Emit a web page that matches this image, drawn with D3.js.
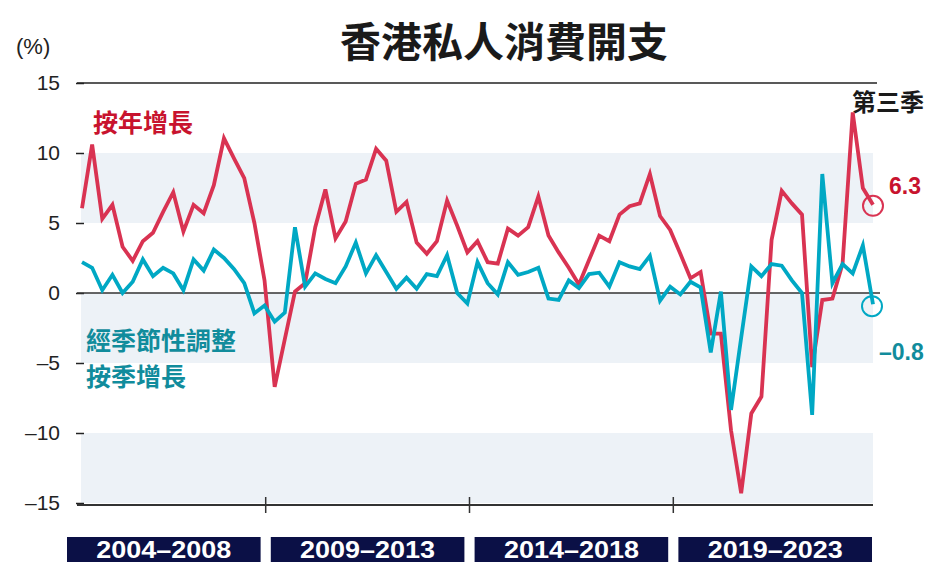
<!DOCTYPE html>
<html lang="zh-Hant">
<head>
<meta charset="utf-8">
<title>香港私人消費開支</title>
<script src="https://cdn.jsdelivr.net/npm/d3@7"></script>
<style>
  body { margin: 0; background: #fff; }
  svg { display: block; }
  .num { font-family: "Liberation Sans", Arial, sans-serif; }
  .cjk { font-family: "Noto Sans CJK TC", "Noto Sans CJK SC", sans-serif; font-weight: bold; }
</style>
</head>
<body>
<svg width="928" height="562"></svg>
<script>
// quarters 2004 Q1 .. 2023 Q3
var years = [2004, 2005, 2006, 2007, 2008, 2009, 2010, 2011, 2012, 2013,
             2014, 2015, 2016, 2017, 2018, 2019, 2020, 2021, 2022, 2023];
var quarterNames = ["Q1", "Q2", "Q3", "Q4"];
var quarters = [];
years.forEach(function (yr) {
  quarterNames.forEach(function (q) { quarters.push(yr + " " + q); });
});
quarters = quarters.slice(0, 79);

// 按年增長 (%)
var yoyGrowth = [
  6.05, 10.6, 5.3, 6.3,   3.3, 2.3, 3.7, 4.3,   5.8, 7.2, 4.4, 6.3,   5.7, 7.7, 11.05, 9.6,
  8.2, 5.0, 0.9, -6.7,    -3.3, 0.1, 0.7, 4.7,  7.4, 3.9, 5.1, 7.8,   8.1, 10.3, 9.45, 5.8,
  6.5, 3.6, 2.8, 3.7,     6.6, 4.8, 2.9, 3.7,   2.2, 2.1, 4.6, 4.1,   4.7, 6.9, 4.1, 2.9,
  1.8, 0.6, 2.35, 4.1,    3.7, 5.6, 6.2, 6.4,   8.5, 5.5, 4.5, 2.8,   1.05, 1.5, -2.9, -2.9,
  -9.8, -14.3, -8.6, -7.4, 3.8, 7.3, 6.4, 5.6,  -5.3, -0.5, -0.4, 2.1, 12.9, 7.5, 6.3
];
// 經季節性調整按季增長 (%)
var qoqGrowth = [
  2.2, 1.8, 0.2, 1.3,     0.0, 0.8, 2.4, 1.2,   1.8, 1.4, 0.2, 2.4,   1.6, 3.1, 2.5, 1.7,
  0.7, -1.45, -0.9, -2.05, -1.4, 4.7, 0.45, 1.4, 1.0, 0.7, 1.9, 3.6,  1.4, 2.7, 1.5, 0.3,
  1.1, 0.3, 1.35, 1.2,    2.7, 0.0, -0.75, 2.2, 0.7, -0.1, 2.2, 1.3,  1.5, 1.8, -0.4, -0.5,
  0.9, 0.35, 1.35, 1.45,  0.45, 2.2, 1.9, 1.7,  2.65, -0.55, 0.45, -0.1, 0.8, 0.4, -4.25, 0.1,
  -8.35, -3.2, 1.9, 1.2,  2.07, 1.95, 0.9, 0.0, -8.7, 8.5, 0.7, 2.07, 1.4, 3.4, -0.8
];

var yTicks = [15, 10, 5, 0, -5, -10, -15];
var shadeBands = [[10, 5], [0, -5], [-10, -15]];
var periods = ["2004–2008", "2009–2013", "2014–2018", "2019–2023"];

var redLine = "#d93352", redText = "#c8132e";
var cyanLine = "#00a8c4", cyanText = "#118c9c";

var svg = d3.select("svg");

var x = d3.scaleLinear().domain([0, quarters.length - 1]).range([82, 873]);
var y = d3.scaleLinear().domain([-15, 15]).range([503, 83]);
var periodScale = d3.scaleBand().domain(periods).range([67, 872]).paddingInner(0.05);

// bandes grises
svg.selectAll("rect.band")
  .data(shadeBands)
  .enter()
  .append("rect")
    .classed("band", true)
    .attr("x", 81)
    .attr("width", 873 - 81)
    .attr("y", function (d) { return y(d[0]); })
    .attr("height", function (d) { return y(d[1]) - y(d[0]); })
    .attr("fill", "#edf2f7");

// y axis
var axeY = d3.axisLeft(y)
  .tickValues(yTicks)
  .tickSize(8)
  .tickPadding(16)
  .tickFormat(function (d) { return d < 0 ? "–" + Math.abs(d) : d; });

svg.append("g")
    .attr("transform", "translate(84,0)")
    .call(axeY)
    .attr("font-size", 21)
    .attr("font-family", "Liberation Sans, Arial, sans-serif")
    .call(function (g) { g.select(".domain").remove(); })
    .call(function (g) { g.selectAll("line").attr("stroke", "#222").attr("stroke-width", 1.5); })
    .call(function (g) { g.selectAll("text").attr("fill", "#222"); });

// lignes 15 et 0
svg.append("line")
  .attr("x1", 77).attr("x2", 877)
  .attr("y1", y(15)).attr("y2", y(15))
  .attr("stroke", "#222").attr("stroke-width", 1.5);

svg.append("line")
  .attr("x1", 77).attr("x2", 880)
  .attr("y1", y(0)).attr("y2", y(0))
  .attr("stroke", "#333").attr("stroke-width", 1.5);

// axe du bas
svg.append("line")
  .attr("x1", 77).attr("x2", 873)
  .attr("y1", y(-15) + 2).attr("y2", y(-15) + 2)
  .attr("stroke", "#333").attr("stroke-width", 2);

var gap = periodScale.step() * periodScale.paddingInner();
svg.selectAll("line.xtick")
  .data(periods.slice(1))
  .enter()
  .append("line")
    .classed("xtick", true)
    .attr("x1", function (d) { return periodScale(d) - gap / 2; })
    .attr("x2", function (d) { return periodScale(d) - gap / 2; })
    .attr("y1", y(-15) - 6).attr("y2", y(-15) + 10)
    .attr("stroke", "#333").attr("stroke-width", 1.5);

// period labels
var periodG = svg.selectAll("g.period")
  .data(periods)
  .enter()
  .append("g")
    .classed("period", true);

periodG.append("rect")
  .attr("x", function (d) { return periodScale(d); })
  .attr("width", periodScale.bandwidth())
  .attr("y", 537)
  .attr("height", 25)
  .attr("fill", "#0b1046");

periodG.append("text")
  .attr("class", "num")
  .attr("x", function (d) { return periodScale(d) + periodScale.bandwidth() / 2; })
  .attr("y", 550)
  .attr("text-anchor", "middle")
  .attr("dominant-baseline", "central")
  .attr("font-size", 23)
  .attr("font-weight", "bold")
  .attr("fill", "#fff")
  .attr("textLength", 135)
  .attr("lengthAdjust", "spacingAndGlyphs")
  .text(function (d) { return d; });

// courbes
var ligne = d3.line()
  .x(function (d, i) { return x(i); })
  .y(function (d) { return y(d); });

svg.append("path")
  .datum(yoyGrowth)
  .attr("d", ligne)
  .attr("fill", "none")
  .attr("stroke", redLine)
  .attr("stroke-width", 3.8);

svg.append("path")
  .datum(qoqGrowth)
  .attr("d", ligne)
  .attr("fill", "none")
  .attr("stroke", cyanLine)
  .attr("stroke-width", 3.8);

// last point circles
var last = quarters.length - 1;
svg.append("circle")
  .attr("cx", x(last)).attr("cy", y(yoyGrowth[last]) + 1)
  .attr("r", 10)
  .attr("fill", "none").attr("stroke", redLine).attr("stroke-width", 2);

svg.append("circle")
  .attr("cx", x(last) - 1).attr("cy", y(qoqGrowth[last]) + 2)
  .attr("r", 10)
  .attr("fill", "none").attr("stroke", cyanLine).attr("stroke-width", 2);

// textes
svg.append("text")
  .attr("class", "cjk")
  .attr("x", 504).attr("y", 39)
  .attr("text-anchor", "middle")
  .attr("dominant-baseline", "central")
  .attr("font-size", 41)
  .attr("fill", "#1a1a1a")
  .text("香港私人消費開支");

svg.append("text")
  .attr("class", "num")
  .attr("x", 16).attr("y", 46)
  .attr("dominant-baseline", "central")
  .attr("font-size", 22)
  .attr("fill", "#222")
  .text("(%)");

svg.append("text")
  .attr("class", "cjk")
  .attr("x", 93).attr("y", 121)
  .attr("dominant-baseline", "central")
  .attr("font-size", 25)
  .attr("fill", redText)
  .text("按年增長");

svg.append("text")
  .attr("class", "cjk")
  .attr("x", 86).attr("y", 339)
  .attr("dominant-baseline", "central")
  .attr("font-size", 25)
  .attr("fill", cyanText)
  .text("經季節性調整");

svg.append("text")
  .attr("class", "cjk")
  .attr("x", 86).attr("y", 375)
  .attr("dominant-baseline", "central")
  .attr("font-size", 25)
  .attr("fill", cyanText)
  .text("按季增長");

svg.append("text")
  .attr("class", "cjk")
  .attr("x", 852).attr("y", 100)
  .attr("dominant-baseline", "central")
  .attr("font-size", 24)
  .attr("fill", "#1a1a1a")
  .text("第三季");

svg.append("text")
  .attr("class", "num")
  .attr("x", 889).attr("y", 186)
  .attr("dominant-baseline", "central")
  .attr("font-size", 23)
  .attr("font-weight", "bold")
  .attr("fill", redText)
  .text(yoyGrowth[last].toFixed(1));

svg.append("text")
  .attr("class", "num")
  .attr("x", 879).attr("y", 352)
  .attr("dominant-baseline", "central")
  .attr("font-size", 23)
  .attr("font-weight", "bold")
  .attr("fill", cyanText)
  .text("–" + Math.abs(qoqGrowth[last]).toFixed(1));
</script>
</body>
</html>
